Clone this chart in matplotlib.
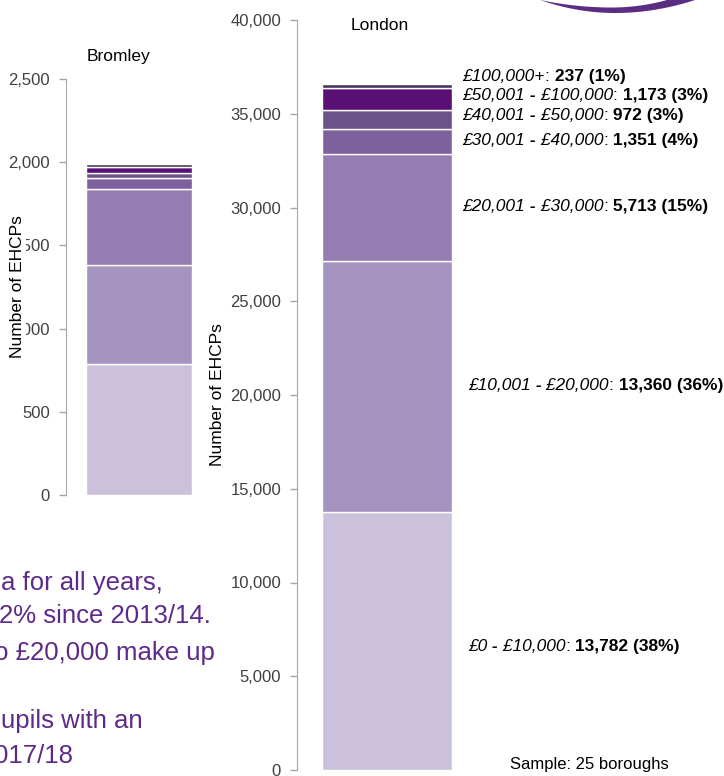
import numpy as np
import matplotlib.pyplot as plt
from matplotlib.patches import Polygon

plt.rcParams['font.family'] = ['Liberation Sans', 'DejaVu Sans']

# cost bands, bottom to top
bands = ['£0 - £10,000', '£10,001 - £20,000', '£20,001 - £30,000',
         '£30,001 - £40,000', '£40,001 - £50,000', '£50,001 - £100,000',
         '£100,000+']
london = [13782, 13360, 5713, 1351, 972, 1173, 237]
london_pct = [38, 36, 15, 4, 3, 3, 1]
bromley = [790, 592, 455, 66, 30, 36, 18]

colors = ['#CBC1DC', '#A594C0', '#957CB1', '#7D619F', '#6B5388', '#5A0F74', '#463658']
purple = '#5D2A8A'
axis_grey = '#A6A6A6'
tick_col = '#404040'

W, H = 724, 776
fig = plt.figure(figsize=(W / 100, H / 100), dpi=100)


def px_axes(left, right, top, bottom):
    return fig.add_axes([left / W, 1 - bottom / H, (right - left) / W, (bottom - top) / H])


def style(ax):
    for s in ['top', 'right', 'bottom']:
        ax.spines[s].set_visible(False)
    ax.spines['left'].set_color(axis_grey)
    ax.tick_params(axis='y', colors=axis_grey, labelcolor=tick_col, length=5, width=1,
                   pad=6.5, labelsize=12)
    ax.tick_params(axis='x', bottom=False, labelbottom=False)
    ax.set_xlim(0, 1)


def stack(ax, vals, width):
    bottom = 0
    for v, c in zip(vals, colors):
        ax.bar(0.5, v, width, bottom=bottom, color=c, edgecolor='white', linewidth=1.0)
        bottom += v


# Bromley
ax1 = px_axes(66, 212, 79, 495)
style(ax1)
stack(ax1, bromley, 0.726)
ax1.set_ylim(0, 2500)
ax1.set_yticks(np.arange(0, 2501, 500))
ax1.yaxis.set_major_formatter(plt.FuncFormatter(lambda v, p: f'{int(v):,}'))
ax1.text(0.36, 1.053, 'Bromley', transform=ax1.transAxes, ha='center', va='center',
         fontsize=12.5, color='black')
fig.text(18 / W, 1 - 287 / H, 'Number of EHCPs', rotation=90, ha='center', va='center',
         fontsize=12.5, color='black',
         bbox=dict(facecolor='white', edgecolor='none', pad=0.5))

# London
ax2 = px_axes(297, 477, 20, 770)
style(ax2)
stack(ax2, london, 0.722)
ax2.set_ylim(0, 40000)
ax2.set_yticks(np.arange(0, 40001, 5000))
ax2.yaxis.set_major_formatter(plt.FuncFormatter(lambda v, p: f'{int(v):,}'))
ax2.text(0.461, 0.9933, 'London', transform=ax2.transAxes, ha='center', va='center',
         fontsize=12.5, color='black')
ax2.set_ylabel('Number of EHCPs', fontsize=12.5, color='black', va='center')
ax2.yaxis.set_label_coords(-0.439, 0.5)

# segment labels: italic band, bold value (mixed styles built piece by piece)
nudge_x = [4, 4, 0, 0, 0, 0, 0]
nudge_y = [6, -1, -1, -1, -4.5, -4, -10]
tops = np.cumsum(london)
mids = tops - np.array(london) / 2
for band, v, pct, m, dx, dy in zip(bands, london, london_pct, mids, nudge_x, nudge_y):
    parts = band.split(' - ')
    pieces = [(parts[0], dict(style='italic'))]
    if len(parts) > 1:
        pieces += [(' -', dict(weight='bold')), (' ' + parts[1], dict(style='italic'))]
    pieces += [(':', dict()), (f' {v:,} ({pct}%)', dict(weight='bold'))]
    t = ax2.annotate(pieces[0][0], xy=(0.861, m), xycoords=('axes fraction', 'data'),
                     xytext=((7.5 + dx) * 0.72 / 0.72, -dy * 0.72), textcoords='offset points',
                     ha='left', va='center', fontsize=12.5, color='black',
                     annotation_clip=False, **pieces[0][1])
    for s, kw in pieces[1:]:
        t = ax2.annotate(s, xy=(1, 0), xycoords=t, ha='left', va='bottom',
                         fontsize=12.5, color='black', **kw)

fig.text(510 / W, 1 - 765 / H, 'Sample: 25 boroughs', ha='left', va='center',
         fontsize=12, color='black')

# cropped slide text on the left
slide_lines = ['a for all years,', '2% since 2013/14.', 'to £20,000 make up',
               'upils with an', '017/18']
line_right = [163, 211, 215, 143, 73]
line_base = [590, 623, 660, 728, 763]
for s, xr, yb in zip(slide_lines, line_right, line_base):
    fig.text(xr / W, 1 - yb / H, s, ha='right', va='baseline', fontsize=18.5, color=purple)

# logo swoosh, cropped at the top edge
xl = np.linspace(540, 695, 60)
yl = 13 * (1 - ((xl - 615) / np.where(xl < 615, 75, 80)) ** 2)
xu = np.linspace(667, 540, 60)
yu = 7.5 * (1 - ((xu - 612) / np.where(xu < 612, 72, 55)) ** 2)
pts = np.column_stack([np.r_[xl, 695, 667, xu], np.r_[yl, -5, -5, yu]])
pts[:, 0] /= W
pts[:, 1] = 1 - pts[:, 1] / H
fig.add_artist(Polygon(pts, closed=True, transform=fig.transFigure,
                       facecolor='#5A2D82', edgecolor='none'))

fig.savefig('out.png', dpi=100)
